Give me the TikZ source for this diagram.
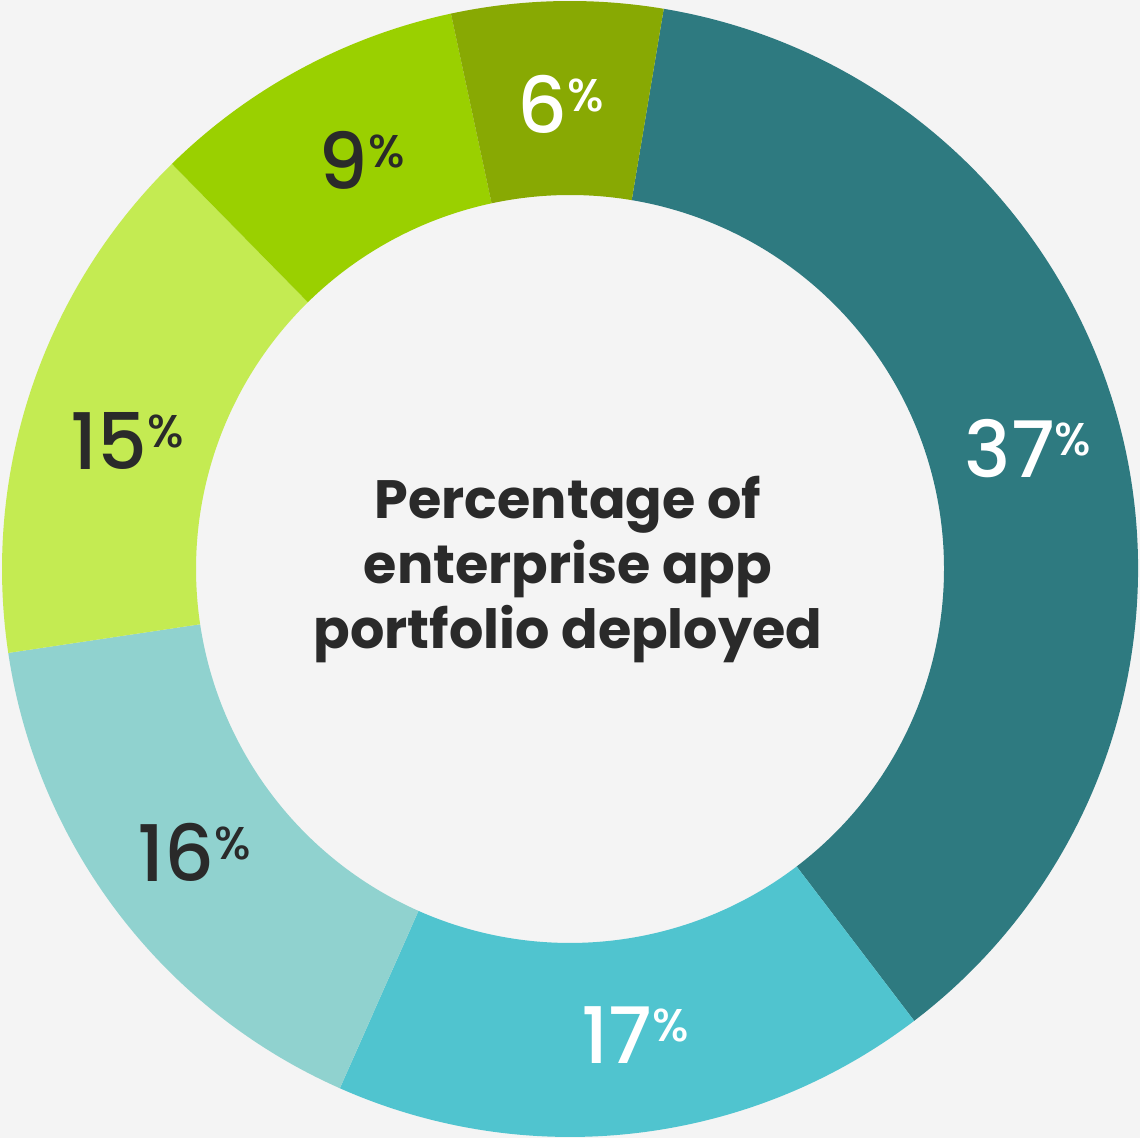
\documentclass[tikz,border=0pt]{standalone}
\usepackage{fontspec}
\setmainfont{Poppins}
\newfontfamily\numfont{Poppins}[UprightFont=* Medium]
\definecolor{bgcol}{HTML}{F4F4F4}
\definecolor{tealdark}{HTML}{2E7A80}
\definecolor{tealmid}{HTML}{50C4CF}
\definecolor{teallight}{HTML}{90D2CF}
\definecolor{limelight}{HTML}{C4EB52}
\definecolor{limemid}{HTML}{9AD000}
\definecolor{olive}{HTML}{88A903}
\definecolor{inkdark}{HTML}{2A2A2A}
\newcommand{\pctlabel}[1]{{\fontsize{39}{39}\selectfont #1}\raisebox{11pt}{\fontsize{23}{23}\selectfont\%}}
\begin{document}
\begin{tikzpicture}[x=0.5pt,y=0.5pt]
        \tikzstyle{pct}=[inner sep=0pt, font=\numfont]
        \tikzstyle{title}=[inner sep=0pt, align=center, text=inkdark, font=\bfseries\fontsize{27}{32.5}\selectfont]

        \fill[bgcol] (0,0) rectangle (1140,1138);
        \useasboundingbox (0,0) rectangle (1140,1138);

        % ring, clockwise from 80.5 deg
        \begin{scope}[shift={(570,569)}]
            \foreach \a/\b/\c in {80.5/-52.7/tealdark, -52.7/-113.9/tealmid, -113.9/-171.5/teallight,
                                  -171.5/-225.5/limelight, -225.5/-257.9/limemid, -257.9/-279.5/olive}
                \fill[\c] (\a:568) arc[start angle=\a, end angle=\b, radius=568]
                    -- (\b:374) arc[start angle=\b, end angle=\a, radius=374] -- cycle;
        \end{scope}

        \node[pct, text=white]    (p37) at (1028,689) {\pctlabel{37}};
        \node[pct, text=white]    (p17) at (635,103)  {\pctlabel{17}};
        \node[pct, text=inkdark]  (p16) at (194,286)  {\pctlabel{16}};
        \node[pct, text=inkdark]  (p15) at (127,697)  {\pctlabel{15}};
        \node[pct, text=inkdark]  (p9)  at (362,978)  {\pctlabel{9}};
        \node[pct, text=white]    (p6)  at (561,1034) {\pctlabel{6}};

        \node[title] (centre) at (568,568) {Percentage of\\enterprise app\\portfolio deployed};
    \end{tikzpicture}
\end{document}
